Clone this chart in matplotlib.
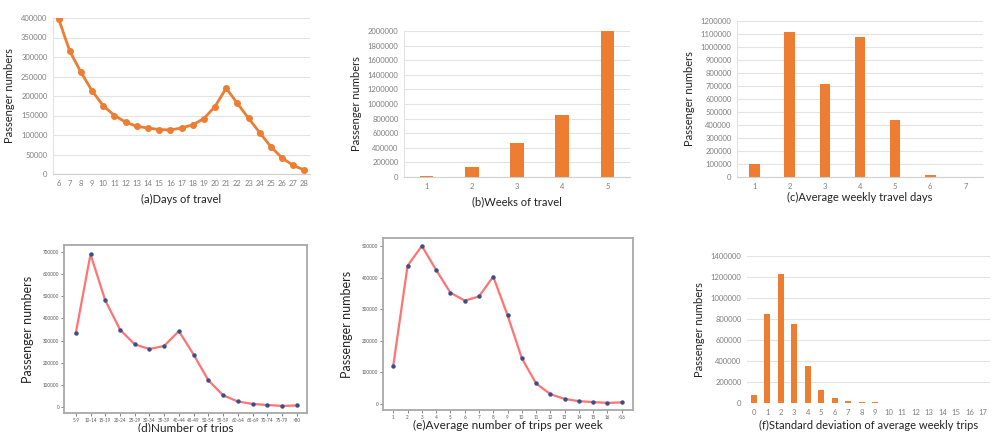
import matplotlib
matplotlib.use("Agg")
import matplotlib.pyplot as plt
from matplotlib.ticker import StrMethodFormatter

plt.rcParams['font.family'] = ['Lato', 'DejaVu Sans']

# (a) days of travel
days = list(range(6, 29))
days_pass = [398000, 315000, 261000, 213000, 175000, 150000, 133000, 122000,
             118000, 114000, 113000, 118000, 126000, 142000, 173000, 220000,
             181000, 143000, 106000, 70000, 41000, 22000, 10000]

# (b) weeks of travel
weeks = ["1", "2", "3", "4", "5"]
weeks_pass = [10000, 140000, 470000, 855000, 1995000]

# (c) average weekly travel days
week_days = ["1", "2", "3", "4", "5", "6", "7"]
week_days_pass = [97000, 1115000, 715000, 1080000, 440000, 18000, 1000]

# (d) number of trips
trip_bins = ["5-9", "10-14", "15-19", "20-24", "25-29", "30-34", "35-39", "40-44",
             "45-49", "50-54", "55-59", "60-64", "65-69", "70-74", "75-79", ">80"]
trip_pass = [333000, 690000, 482000, 350000, 283000, 262000, 276000, 343000,
             237000, 121000, 53000, 25000, 14000, 9000, 5000, 7000]

# (e) average number of trips per week
avg_trips = [str(i) for i in range(1, 17)] + [">16"]
avg_trips_pass = [121000, 437000, 500000, 424000, 352000, 327000, 340000, 403000,
                  281000, 145000, 65000, 31000, 16000, 9000, 6000, 3500, 5000]

# (f) standard deviation of average weekly trips
std_bins = [str(i) for i in range(18)]
std_pass = [76000, 847000, 1226000, 752000, 354000, 126000, 50000, 19000,
            8000, 6000, 3000, 2000, 1000, 1000, 500, 500, 300, 200]

ORANGE = "#ED7D31"
TICK_GRAY = "#7f7f7f"
W, H = 992, 432
plain = StrMethodFormatter("{x:.0f}")


def px_axes(fig, left, top, right, bottom):
    return fig.add_axes([left / W, 1 - bottom / H, (right - left) / W, (bottom - top) / H])


def excel_style(ax, ymax, step, left_line=True):
    ax.set_ylim(0, ymax)
    ax.set_yticks(range(0, ymax + 1, step))
    ax.yaxis.set_major_formatter(plain)
    ax.yaxis.grid(True, color="#e3e3e3", lw=0.8)
    ax.set_axisbelow(True)
    for s in ["top", "right"]:
        ax.spines[s].set_visible(False)
    ax.spines["left"].set_visible(left_line)
    ax.spines["left"].set_color("#e3e3e3")
    ax.spines["bottom"].set_color("#d0d0d0")
    ax.tick_params(length=0, labelsize=5.5, colors=TICK_GRAY, pad=4)
    ax.set_ylabel("Passenger numbers", fontsize=8, color="#222222", labelpad=4)


def line_style(ax):
    ax.yaxis.set_major_formatter(plain)
    for s in ax.spines.values():
        s.set_color("#a8a8a8")
        s.set_linewidth(1.3)
    ax.tick_params(labelsize=3.3, length=2, width=0.5, colors="#555555", pad=1.5)
    ax.set_ylabel("Passenger numbers", fontsize=9, color="#222222", labelpad=6)


fig = plt.figure(figsize=(W / 100, H / 100), dpi=100)

# (a)
ax = px_axes(fig, 53, 18, 310, 174)
x = range(len(days))
ax.plot(x, days_pass, color=ORANGE, lw=2, marker="o", ms=4)
ax.set_xticks(list(x))
ax.set_xticklabels([str(d) for d in days])
ax.set_xlim(-0.5, len(days) - 0.5)
excel_style(ax, 400000, 50000)
ax.set_xlabel("(a)Days of travel", fontsize=8, color="#222222", labelpad=5)

# (b)
ax = px_axes(fig, 404, 31, 630, 177)
x = range(len(weeks))
ax.bar(x, weeks_pass, width=0.3, color=ORANGE)
ax.set_xticks(list(x))
ax.set_xticklabels(weeks)
ax.set_xlim(-0.5, len(weeks) - 0.5)
excel_style(ax, 2000000, 200000)
ax.set_xlabel("(b)Weeks of travel", fontsize=8, color="#222222", labelpad=5)

# (c)
ax = px_axes(fig, 737, 21, 983, 177)
x = range(len(week_days))
ax.bar(x, week_days_pass, width=0.3, color=ORANGE)
ax.set_xticks(list(x))
ax.set_xticklabels(week_days)
ax.set_xlim(-0.5, len(week_days) - 0.5)
excel_style(ax, 1200000, 100000)
ax.set_xlabel("(c)Average weekly travel days", fontsize=8, color="#222222", labelpad=2)

# (d)
ax = px_axes(fig, 64, 245, 307, 413)
x = range(len(trip_bins))
ax.plot(x, trip_pass, color="#ff5a5a", lw=1.6, alpha=0.85, zorder=2)
ax.plot(x, trip_pass, ls="none", marker="o", ms=2.2, color="#3b4f8c", zorder=3)
ax.set_xticks(list(x))
ax.set_xticklabels(trip_bins)
ax.set_xlim(-0.8, len(trip_bins) - 0.3)
ax.set_ylim(-27000, 732000)
ax.set_yticks(range(0, 700001, 100000))
line_style(ax)
ax.set_xlabel("(d)Number of trips", fontsize=8.5, color="#222222", labelpad=0)

# (e)
ax = px_axes(fig, 383, 238, 633, 410)
x = range(len(avg_trips))
ax.plot(x, avg_trips_pass, color="#ff5a5a", lw=1.6, alpha=0.85, zorder=2)
ax.plot(x, avg_trips_pass, ls="none", marker="o", ms=2.2, color="#3b4f8c", zorder=3)
ax.set_xticks(list(x))
ax.set_xticklabels(avg_trips)
ax.set_xlim(-0.72, len(avg_trips) - 0.21)
ax.set_ylim(-19000, 525000)
ax.set_yticks(range(0, 500001, 100000))
line_style(ax)
ax.set_xlabel("(e)Average number of trips per week", fontsize=8.5, color="#222222", labelpad=0)

# (f)
ax = px_axes(fig, 747, 256, 990, 403)
x = range(len(std_bins))
ax.bar(x, std_pass, width=0.44, color=ORANGE)
ax.set_xticks(list(x))
ax.set_xticklabels(std_bins)
ax.set_xlim(-0.5, len(std_bins) - 0.5)
excel_style(ax, 1400000, 200000, left_line=False)
ax.spines["bottom"].set_visible(False)
ax.set_xlabel("(f)Standard deviation of average weekly trips", fontsize=8,
              color="#222222", labelpad=3)

fig.savefig("out.png", dpi=100)
